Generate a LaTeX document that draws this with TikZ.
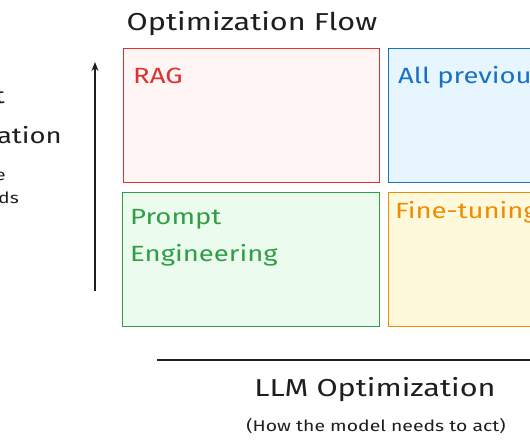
\documentclass[tikz,border=0pt]{standalone}
\usepackage{fontspec}
\setmainfont{Fira Sans}[FakeStretch=1.25]
\usetikzlibrary{arrows.meta}
\definecolor{ink}{HTML}{1E1E1E}
\definecolor{rs}{HTML}{E03131}\definecolor{rf}{HTML}{FFF5F5}
\definecolor{bs}{HTML}{1971C2}\definecolor{bf}{HTML}{E7F5FF}
\definecolor{gs}{HTML}{2F9E44}\definecolor{gf}{HTML}{EBFBEE}
\definecolor{os}{HTML}{F08C00}\definecolor{of}{HTML}{FFF9DB}
\tikzset{
  quad/.style={draw, line width=1.3pt, anchor=north west, inner sep=0pt},
  big/.style={font=\fontsize{22}{26}\selectfont, inner sep=0pt},
  head/.style={font=\fontsize{24.5}{28}\selectfont, inner sep=0pt},
  small/.style={font=\fontsize{15.5}{18}\selectfont, inner sep=0pt},
}
\begin{document}
\begin{tikzpicture}[x=1pt,y=-1pt]
\useasboundingbox (0,0) rectangle (530,442);
\clip (0,0) rectangle (530,442);
% title
\node[head, text=ink, anchor=base] (title) at (252,30) {Optimization Flow};
% boxes
\node[quad, draw=rs, fill=rf, minimum width=256pt, minimum height=134pt] (rag) at (123,48) {};
\node[quad, draw=bs, fill=bf, minimum width=250pt, minimum height=134pt] (all) at (388,48) {};
\node[quad, draw=gs, fill=gf, minimum width=257pt, minimum height=134pt] (pe) at (122,192) {};
\node[quad, draw=os, fill=of, minimum width=250pt, minimum height=134pt] (ft) at (388,192) {};
% labels
\node[big, text=rs, anchor=base west] (ragl) at (133,83) {RAG};
\node[big, text=bs, anchor=base west] (alll) at (398,83) {All previous};
\node[big, text=gs, anchor=base west] (pel1) at (130,224) {Prompt};
\node[big, text=gs, anchor=base west] (pel2) at (130,261) {Engineering};
\node[big, text=os, anchor=base west] (ftl) at (395,218) {Fine-tuning};
% vertical axis
\coordinate (vb) at (95,291);
\coordinate (vt) at (95,62);
\draw[ink, line width=1.3pt, -{Stealth[length=9pt,width=7pt]}] (vb) -- (vt);
\node[big, text=ink, anchor=base east] (yl1) at (5,103) {Context};
\node[big, text=ink, anchor=base east] (yl2) at (62,143) {Optimization};
\node[small, text=ink, anchor=base east] (yl3) at (6,180) {(What the};
\node[small, text=ink, anchor=base east] (yl4) at (19,203) {model needs};
% horizontal axis
\coordinate (hl) at (157,360);
\coordinate (hr) at (540,360);
\draw[ink, line width=1.3pt] (hl) -- (hr);
\node[head, text=ink, anchor=base] (xl1) at (375,396) {LLM Optimization};
\node[small, text=ink, anchor=base] (xl2) at (376,431) {(How the model needs to act)};
\end{tikzpicture}
\end{document}
